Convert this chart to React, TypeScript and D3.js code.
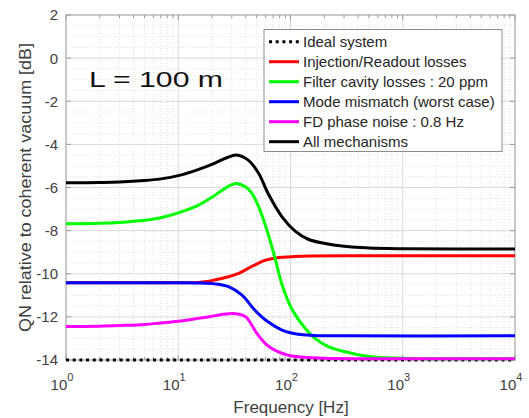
import React from "react";
import * as d3 from "d3";

// frequency samples (Hz) and QN values (dB)
const fBlack = [1, 2, 3, 5, 7, 10, 15, 21, 27, 33, 42, 52, 63, 84, 110, 144, 203, 300, 500, 1000, 10000];
const vBlack = [-5.78, -5.77, -5.75, -5.68, -5.6, -5.45, -5.17, -4.88, -4.62, -4.49, -4.73, -5.34, -6.27, -7.36, -8.02, -8.4, -8.6, -8.73, -8.81, -8.84, -8.85];

const fGreen = [1, 2, 3, 5, 7, 10, 15, 20, 25, 30, 33, 40, 45, 52, 63, 73, 84, 102, 135, 165, 217, 306, 500, 1000, 2000, 10000];
const vGreen = [-7.68, -7.66, -7.62, -7.52, -7.4, -7.18, -6.83, -6.45, -6.1, -5.87, -5.81, -5.98, -6.25, -6.89, -8.13, -9.3, -10.5, -11.6, -12.53, -13.0, -13.38, -13.62, -13.84, -13.92, -13.94, -13.94];

const fRed = [1, 5, 10, 15, 18, 21, 28, 35, 42, 50, 59, 70, 84, 110, 150, 300, 10000];
const vRed = [-10.42, -10.42, -10.42, -10.4, -10.36, -10.29, -10.14, -9.97, -9.75, -9.55, -9.38, -9.29, -9.24, -9.2, -9.18, -9.17, -9.17];

const fBlue = [1, 5, 10, 15, 21, 28, 37, 48, 63, 84, 117, 160, 300, 10000];
const vBlue = [-10.42, -10.42, -10.42, -10.43, -10.47, -10.6, -10.99, -11.68, -12.23, -12.61, -12.81, -12.86, -12.88, -12.88];

const fMagenta = [1, 2, 3, 5, 7, 10, 15, 20, 25, 30, 35, 40, 50, 60, 70, 85, 100, 130, 200, 500, 10000];
const vMagenta = [-12.45, -12.43, -12.4, -12.35, -12.28, -12.2, -12.07, -11.97, -11.88, -11.84, -11.88, -12.0, -12.75, -13.25, -13.5, -13.7, -13.8, -13.87, -13.92, -13.94, -13.94];

const fIdeal = [1, 10000];
const vIdeal = [-14, -14];

const legendLabels = [
  "Ideal system",
  "Injection/Readout losses",
  "Filter cavity losses : 20 ppm",
  "Mode mismatch (worst case)",
  "FD phase noise : 0.8 Hz",
  "All mechanisms",
];
const legendColors = ["#000000", "#ff0000", "#00ff00", "#0000ff", "#ff00ff", "#000000"];

const yTicks = [2, 0, -2, -4, -6, -8, -10, -12, -14];
const xDecades = [0, 1, 2, 3, 4];

const W = 529;
const H = 418;
const left = 66, right = 515, top = 15, bottom = 360;

export default function App() {
  const x = d3.scaleLog().domain([1, 1e4]).range([left, right]);
  const y = d3.scaleLinear().domain([-14, 2]).range([bottom, top]);

  const line = (fs: number[], vs: number[]) =>
    d3
      .line<number>()
      .x((d, i) => x(fs[i]))
      .y((d) => y(d))
      .curve(d3.curveCatmullRom.alpha(0.5))(vs) || "";

  const series = [
    { f: fIdeal, v: vIdeal, c: legendColors[0], dash: "3 3.7" },
    { f: fRed, v: vRed, c: legendColors[1] },
    { f: fGreen, v: vGreen, c: legendColors[2] },
    { f: fBlue, v: vBlue, c: legendColors[3] },
    { f: fMagenta, v: vMagenta, c: legendColors[4] },
    { f: fBlack, v: vBlack, c: legendColors[5] },
  ];

  // minor grid positions
  const xMinor: number[] = [];
  for (let e = 0; e < 4; e++) for (let k = 2; k <= 9; k++) xMinor.push(k * Math.pow(10, e));
  const yMinor: number[] = [];
  for (let v = -14; v <= 2; v += 0.5) if (v % 2 !== 0) yMinor.push(v);

  const font = "Arial, 'Liberation Sans', Helvetica, sans-serif";
  const tickCol = "#404040";

  return (
    <svg width={W} height={H} style={{ position: "absolute", left: 0, top: 0, background: "#fff" }} fontFamily={font}>
      <rect x={0} y={0} width={W} height={H} fill="#fff" />
      {/* minor grid */}
      {xMinor.map((f) => (
        <line key={"xm" + f} x1={x(f)} x2={x(f)} y1={top} y2={bottom} stroke="#e0e0e0" strokeDasharray="1 2" />
      ))}
      {yMinor.map((v) => (
        <line key={"ym" + v} x1={left} x2={right} y1={y(v)} y2={y(v)} stroke="#e0e0e0" strokeDasharray="1 2" />
      ))}
      {/* major grid */}
      {xDecades.map((e) => (
        <line key={"xg" + e} x1={x(Math.pow(10, e))} x2={x(Math.pow(10, e))} y1={top} y2={bottom} stroke="#dadada" />
      ))}
      {yTicks.map((v) => (
        <line key={"yg" + v} x1={left} x2={right} y1={y(v)} y2={y(v)} stroke="#dadada" />
      ))}

      {/* ticks */}
      {xDecades.map((e) => (
        <g key={"xt" + e}>
          <line x1={x(Math.pow(10, e))} x2={x(Math.pow(10, e))} y1={bottom} y2={bottom - 5} stroke="#9a9a9a" />
          <line x1={x(Math.pow(10, e))} x2={x(Math.pow(10, e))} y1={top} y2={top + 5} stroke="#9a9a9a" />
        </g>
      ))}
      {xMinor.map((f) => (
        <g key={"xmt" + f}>
          <line x1={x(f)} x2={x(f)} y1={bottom} y2={bottom - 3} stroke="#9a9a9a" />
          <line x1={x(f)} x2={x(f)} y1={top} y2={top + 3} stroke="#9a9a9a" />
        </g>
      ))}
      {yTicks.map((v) => (
        <g key={"yt" + v}>
          <line x1={left} x2={left + 5} y1={y(v)} y2={y(v)} stroke="#9a9a9a" />
          <line x1={right} x2={right - 5} y1={y(v)} y2={y(v)} stroke="#9a9a9a" />
        </g>
      ))}

      {/* axes box, under the curves */}
      <rect x={left} y={top} width={right - left} height={bottom - top} fill="none" stroke="#a6a6a6" />

      {/* curves */}
      {series.map((s, i) => (
        <path
          key={"s" + i}
          d={line(s.f, s.v)}
          fill="none"
          stroke={s.c}
          strokeWidth={3}
          strokeDasharray={s.dash}
        />
      ))}

      {/* tick labels */}
      {yTicks.map((v) => (
        <text key={"yl" + v} x={58} y={y(v)} dy="0.36em" textAnchor="end" fontSize={15} fill={tickCol}>
          {v}
        </text>
      ))}
      {xDecades.map((e) => (
        <text key={"xl" + e} x={x(Math.pow(10, e)) - 4} y={390} textAnchor="middle" fontSize={15} fill={tickCol}>
          10
          <tspan dx={0} dy={-9} fontSize={11}>
            {e}
          </tspan>
        </text>
      ))}

      {/* axis labels */}
      <text x={(232 + 350) / 2} y={413} textAnchor="middle" fontSize={17} fill={tickCol}>
        Frequency [Hz]
      </text>
      <text
        transform={`translate(31, ${(43 + 332) / 2}) rotate(-90)`}
        textAnchor="middle"
        fontSize={17}
        fill={tickCol}
        textLength={289}
        lengthAdjust="spacingAndGlyphs"
      >
        QN relative to coherent vacuum [dB]
      </text>

      {/* annotation */}
      <text x={89} y={86.7} fontSize={22} fill="#111" textLength={134} lengthAdjust="spacingAndGlyphs">
        L = 100 m
      </text>

      {/* legend */}
      <rect x={264} y={29.5} width={238} height={122} fill="#fff" stroke="#8c8c8c" />
      {legendLabels.map((lab, i) => {
        const ly = 41.7 + i * 20;
        return (
          <g key={"lg" + i}>
            <line
              x1={269}
              x2={299}
              y1={ly}
              y2={ly}
              stroke={legendColors[i]}
              strokeWidth={3}
              strokeDasharray={i === 0 ? "3 3.7" : undefined}
            />
            <text x={303} y={ly} dy="0.36em" fontSize={15} fill="#262626">
              {lab}
            </text>
          </g>
        );
      })}
    </svg>
  );
}
